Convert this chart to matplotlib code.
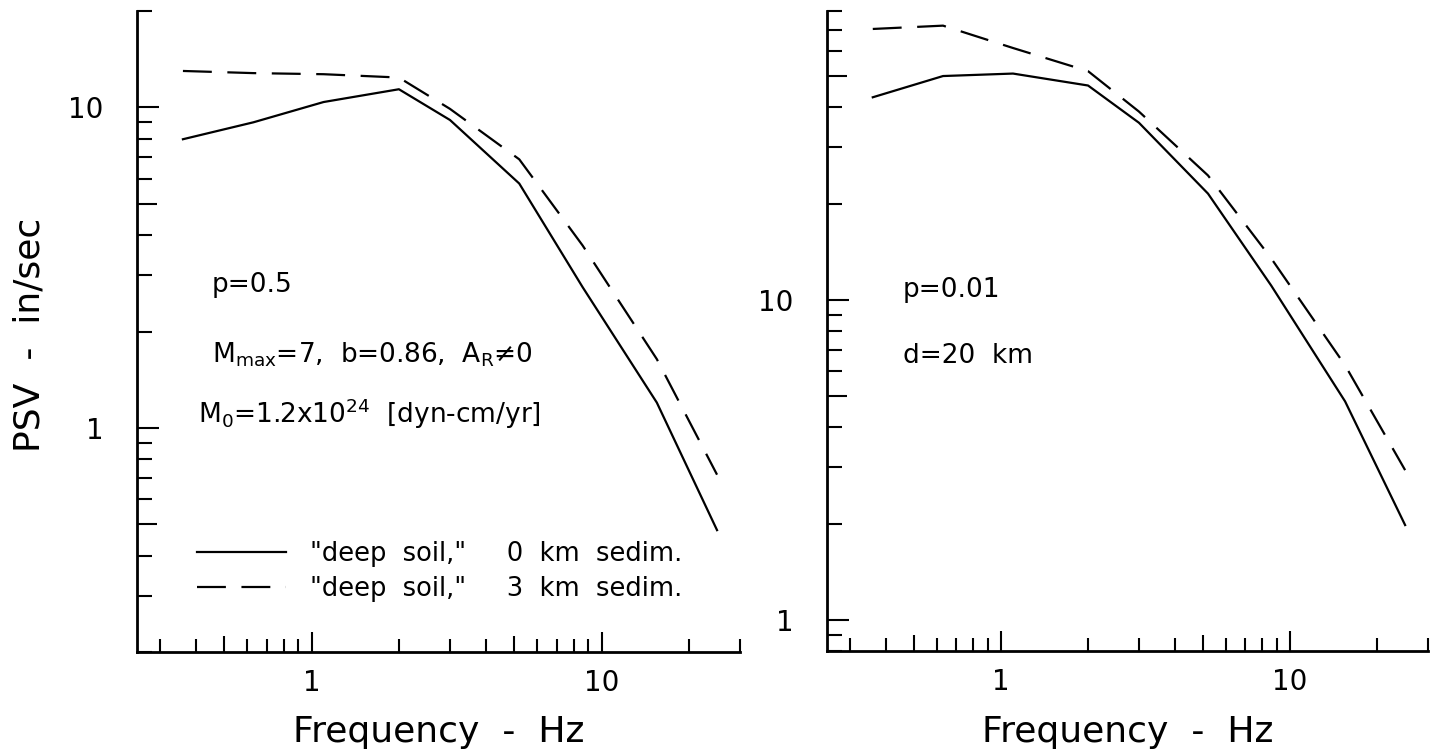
import matplotlib
matplotlib.use("Agg")
import matplotlib.pyplot as plt
import numpy as np
from matplotlib.ticker import LogLocator, FuncFormatter, NullFormatter

# frequencies (Hz) of the plotted spectra
freq = [0.36, 0.63, 1.1, 2.0, 3.0, 5.2, 8.6, 15.5, 25.0]

# left panel: p=0.5
left_0km = [7.96, 8.99, 10.4, 11.4, 9.14, 5.79, 2.75, 1.20, 0.48]
left_3km = [13.0, 12.8, 12.7, 12.4, 9.9, 6.89, 3.71, 1.64, 0.715]

# right panel: p=0.01, d=20 km
right_0km = [43.0, 50.1, 51.0, 46.8, 35.8, 21.5, 11.1, 4.82, 1.98]
right_3km = [70.3, 72.0, 61.3, 51.9, 38.8, 24.5, 13.5, 6.25, 2.94]

labels = ['"deep  soil,"     0  km  sedim.',
          '"deep  soil,"     3  km  sedim.']

W, H = 1436, 753
fig = plt.figure(figsize=(W / 100, H / 100), dpi=100)
ax1 = fig.add_axes([137 / W, (H - 652) / H, 603 / W, 641 / H])
ax2 = fig.add_axes([827 / W, (H - 651) / H, 601 / W, 640 / H])

DASH = (13, 7)
fmt = FuncFormatter(lambda v, p: f"{v:g}")


def style_axes(ax, ylim):
    ax.set_xscale("log")
    ax.set_yscale("log")
    ax.set_xlim(0.25, 30)
    ax.set_ylim(*ylim)
    for s in ("top", "right"):
        ax.spines[s].set_visible(False)
    for s in ("left", "bottom"):
        ax.spines[s].set_linewidth(2.0)
    for axis in (ax.xaxis, ax.yaxis):
        axis.set_major_locator(LogLocator(base=10, numticks=10))
        axis.set_minor_locator(LogLocator(base=10, subs=np.arange(2, 10), numticks=20))
        axis.set_major_formatter(fmt)
        axis.set_minor_formatter(NullFormatter())
    ax.tick_params(which="both", direction="in", width=1.5, top=False, right=False)
    ax.tick_params(axis="y", which="major", length=15.8, pad=24, labelsize=20)
    ax.tick_params(axis="y", which="minor", length=10.8)
    ax.tick_params(axis="x", which="major", length=14.4, pad=12, labelsize=20)
    ax.tick_params(axis="x", which="minor", length=9.4)


style_axes(ax1, (0.2, 20))
style_axes(ax2, (0.8, 80))

l1, = ax1.plot(freq, left_0km, color="black", lw=1.6)
l2, = ax1.plot(freq, left_3km, color="black", lw=1.6, linestyle=(0, DASH))
ax2.plot(freq, right_0km, color="black", lw=1.6)
ax2.plot(freq, right_3km, color="black", lw=1.6, linestyle=(0, DASH))

txt = dict(fontsize=19, va="baseline", ha="left")
ax1.text(0.124, 0.5616, "p=0.5", transform=ax1.transAxes, **txt)
ax1.text(0.124, 0.4524, r"M$_{\rm max}$=7,  b=0.86,  A$_{\rm R}$≠0",
         transform=ax1.transAxes, **txt)
ax1.text(0.101, 0.357, r"M$_0$=1.2x10$^{24}$  [dyn-cm/yr]",
         transform=ax1.transAxes, **txt)
ax2.text(0.1265, 0.553, "p=0.01", transform=ax2.transAxes, **txt)
ax2.text(0.1265, 0.45, "d=20  km", transform=ax2.transAxes, **txt)

ax1.legend([l1, l2], labels, loc="lower left", bbox_to_anchor=(0.0995, 0.0785),
           frameon=False, fontsize=18.5, borderpad=0, borderaxespad=0,
           handlelength=3.46, handletextpad=0.93, labelspacing=0.35)

fig.text(30 / W, 1 - 335 / H, "PSV  -  in/sec", rotation=90,
         ha="center", va="center", fontsize=26)
for ax in (ax1, ax2):
    pos = ax.get_position()
    fig.text(pos.x0 + pos.width / 2, 11 / H, "Frequency  -  Hz",
             ha="center", va="baseline", fontsize=26)

# the ticks at 5 are drawn a bit longer than the other minor ticks
fig.canvas.draw()
for ax in (ax1, ax2):
    for axis, ln in ((ax.xaxis, 11.5), (ax.yaxis, 14.4)):
        for t in axis.get_minor_ticks():
            loc = t.get_loc()
            if loc > 0 and abs(loc / 10 ** np.floor(np.log10(loc)) - 5) < 1e-6:
                t.tick1line.set_markersize(ln)

fig.savefig("out.png", dpi=100)
